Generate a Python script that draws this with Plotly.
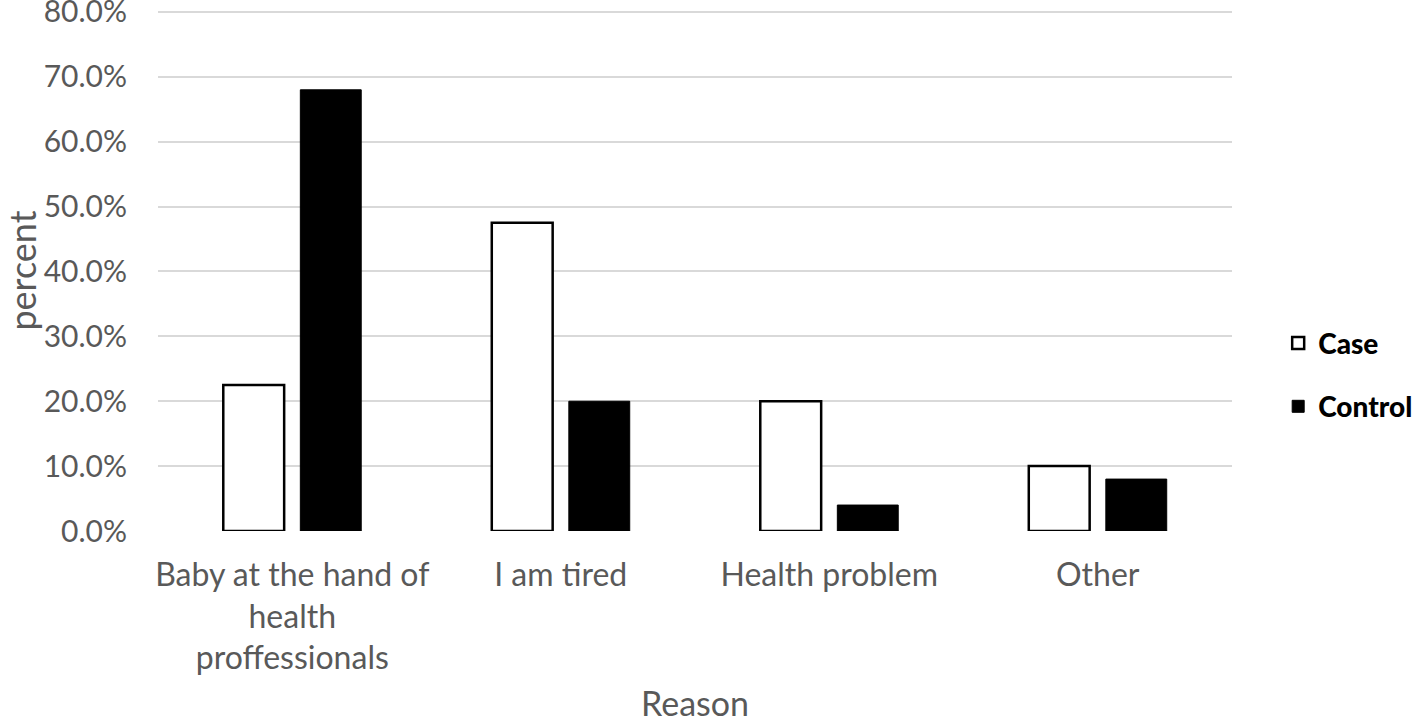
import plotly.graph_objects as go

categories = ["Baby at the hand of<br>health<br>proffessionals", "I am tired", "Health problem", "Other"]
case_values = [0.225, 0.475, 0.20, 0.10]
control_values = [0.68, 0.20, 0.04, 0.08]
y_ticks = [0, 0.1, 0.2, 0.3, 0.4, 0.5, 0.6, 0.7, 0.8]

FONT = "Lato"
GRAY = "#595959"

fig = go.Figure()
fig.add_trace(go.Bar(
    name="Case", x=categories, y=case_values,
    marker=dict(color="white", line=dict(color="black", width=2.5)),
    legendgroup="a",
))
fig.add_trace(go.Bar(
    name="Control", x=categories, y=control_values,
    marker=dict(color="black", line=dict(color="black", width=1)),
    legendgroup="b",
))

fig.update_layout(
    width=1419, height=723,
    margin=dict(l=158, r=187, t=10, b=192, autoexpand=False),
    paper_bgcolor="white", plot_bgcolor="white",
    barmode="group", bargap=0.426, bargroupgap=0.21,
    font=dict(family=FONT, size=24, color=GRAY),
    showlegend=True,
    legend=dict(
        x=1.043, y=0.30, xanchor="left", yanchor="middle",
        font=dict(family=FONT, size=28, color="black", weight=900),
        tracegroupgap=24, traceorder="grouped",
    ),
    xaxis=dict(
        showgrid=False, showline=False, zeroline=False, automargin=True,
        tickfont=dict(family=FONT, size=32, color=GRAY),
        ticklabelstandoff=22,
        title=dict(text="Reason", font=dict(family=FONT, size=34, color=GRAY), standoff=26),
    ),
    yaxis=dict(
        range=[0, 0.803], tickvals=y_ticks, tickformat=".1%",
        showgrid=True, gridcolor="#d9d9d9", gridwidth=2,
        zeroline=False, showline=False, automargin=True,
        tickfont=dict(family=FONT, size=30, color=GRAY),
        ticklabelstandoff=30, ticklabeloverflow="allow",
        title=dict(text="percent", font=dict(family=FONT, size=36, color=GRAY), standoff=0),
    ),
)

fig.write_html(
    "out.html",
    config={"displayModeBar": False},
    post_script="document.body.style.margin='0';",
)
